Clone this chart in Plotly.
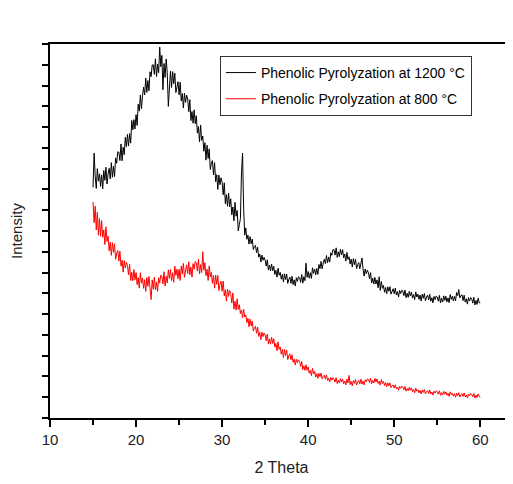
import numpy as np
import plotly.graph_objects as go

# 2-theta scan grid (degrees), 0.125 deg step
two_theta = np.round(np.arange(15.0, 60.0001, 0.125), 3)

# Intensity (a.u.), one row per degree (15 .. 59), then 60
intensity_1200 = [
    1110, 1275, 1165, 1105, 1200, 1140, 1175, 1115,
    1170, 1103, 1191, 1144, 1207, 1126, 1174, 1202,
    1150, 1229, 1159, 1213, 1162, 1252, 1226, 1281,
    1280, 1239, 1319, 1238, 1303, 1267, 1351, 1306,
    1365, 1309, 1369, 1323, 1432, 1387, 1436, 1391,
    1460, 1408, 1510, 1477, 1555, 1488, 1550, 1592,
    1555, 1636, 1567, 1624, 1575, 1666, 1643, 1699,
    1700, 1654, 1729, 1643, 1703, 1662, 1785, 1691,
    1745, 1580, 1706, 1639, 1728, 1661, 1500, 1622,
    1670, 1591, 1667, 1609, 1660, 1566, 1603, 1619,
    1555, 1616, 1526, 1562, 1492, 1563, 1519, 1554,
    1535, 1474, 1532, 1431, 1475, 1419, 1483, 1416,
    1455, 1371, 1403, 1329, 1410, 1336, 1357, 1284,
    1325, 1241, 1313, 1249, 1295, 1196, 1227, 1239,
    1170, 1229, 1137, 1171, 1100, 1169, 1123, 1156,
    1135, 1074, 1132, 1031, 1075, 1019, 1083, 1016,
    1055, 978, 1016, 949, 1038, 971, 999, 900,
    930, 960, 1180, 1275, 1010, 880, 915, 860,
    880, 837, 873, 839, 861, 811, 826, 831,
    796, 822, 774, 789, 751, 784, 759, 773,
    760, 731, 761, 712, 736, 708, 741, 709,
    730, 691, 711, 678, 721, 687, 701, 668,
    692, 654, 694, 666, 693, 648, 667, 678,
    648, 682, 642, 665, 635, 675, 658, 680,
    675, 653, 691, 649, 680, 661, 745, 677,
    705, 673, 699, 672, 723, 696, 716, 689,
    720, 691, 739, 719, 754, 718, 746, 764,
    743, 782, 747, 775, 750, 795, 783, 810,
    810, 784, 819, 773, 800, 777, 813, 786,
    810, 771, 789, 755, 797, 763, 776, 741,
    765, 727, 767, 738, 764, 719, 738, 748,
    718, 746, 770, 718, 683, 717, 694, 711,
    700, 670, 700, 650, 673, 645, 677, 645,
    665, 627, 680, 614, 657, 624, 638, 605,
    628, 598, 631, 610, 632, 596, 613, 622,
    598, 625, 592, 608, 583, 614, 599, 615,
    610, 589, 616, 579, 600, 581, 610, 587,
    606, 577, 594, 570, 607, 582, 596, 571,
    592, 563, 596, 576, 599, 564, 582, 591,
    568, 595, 562, 579, 554, 585, 570, 587,
    582, 562, 590, 554, 576, 558, 588, 566,
    586, 559, 578, 555, 594, 571, 586, 563,
    586, 564, 604, 589, 618, 578, 590, 593,
    565, 591, 558, 574, 548, 579, 563, 580,
    574, 553, 581, 544, 566, 547, 577, 554,
    555,
]

intensity_800 = [
    1040, 940, 1020, 905, 990, 880, 960, 875,
    950, 870, 905, 835, 920, 850, 875, 805,
    846, 783, 844, 797, 838, 764, 793, 806,
    755, 803, 731, 759, 702, 758, 722, 750,
    734, 689, 740, 662, 701, 660, 714, 665,
    700, 642, 676, 625, 699, 649, 674, 624,
    666, 609, 676, 634, 681, 612, 570, 665,
    620, 678, 616, 655, 609, 675, 650, 688,
    682, 645, 704, 635, 682, 650, 713, 672,
    715, 661, 699, 653, 731, 686, 716, 670,
    716, 662, 732, 694, 744, 677, 715, 737,
    695, 752, 689, 726, 678, 743, 716, 753,
    746, 707, 764, 693, 738, 700, 800, 711,
    747, 685, 716, 662, 732, 679, 701, 648,
    686, 625, 688, 643, 686, 613, 644, 659,
    610, 659, 588, 617, 562, 620, 585, 614,
    599, 553, 602, 524, 562, 520, 574, 523,
    545, 503, 519, 482, 523, 486, 496, 459,
    480, 439, 476, 443, 467, 419, 434, 441,
    408, 438, 393, 412, 377, 413, 392, 409,
    400, 372, 404, 356, 381, 355, 389, 359,
    381, 341, 359, 324, 366, 330, 342, 307,
    330, 291, 330, 301, 327, 281, 300, 309,
    280, 304, 268, 283, 255, 283, 266, 280,
    272, 248, 272, 233, 251, 229, 256, 230,
    246, 215, 230, 204, 239, 212, 224, 197,
    214, 191, 215, 199, 216, 188, 200, 206,
    187, 207, 181, 192, 173, 195, 182, 194,
    189, 173, 194, 166, 182, 168, 190, 173,
    187, 165, 178, 159, 187, 169, 205, 161,
    176, 155, 180, 167, 185, 159, 173, 181,
    164, 187, 163, 177, 159, 184, 174, 188,
    186, 171, 192, 165, 181, 168, 191, 173,
    188, 166, 177, 158, 185, 166, 176, 156,
    170, 151, 169, 155, 169, 146, 155, 159,
    144, 160, 140, 149, 134, 152, 143, 153,
    149, 136, 152, 129, 142, 131, 148, 134,
    145, 127, 137, 121, 144, 129, 136, 121,
    133, 116, 135, 123, 137, 116, 126, 132,
    118, 135, 115, 125, 110, 129, 120, 131,
    127, 115, 131, 109, 122, 111, 128, 115,
    126, 109, 119, 104, 126, 112, 119, 105,
    117, 100, 119, 107, 122, 101, 111, 117,
    104, 121, 101, 111, 97, 115, 107, 117,
    114, 102, 118, 96, 110, 99, 116, 103,
    100,
]

series_names = ["Phenolic Pyrolyzation at 1200 °C", "Phenolic Pyrolyzation at 800 °C"]
x_tick_vals = [10, 20, 30, 40, 50, 60]

FONT = "Liberation Sans, Arial, sans-serif"

fig = go.Figure()
fig.add_trace(go.Scatter(x=two_theta, y=intensity_1200, mode="lines", legendgroup="a",
                         name=series_names[0], line=dict(color="black", width=1)))
fig.add_trace(go.Scatter(x=two_theta, y=intensity_800, mode="lines", legendgroup="b",
                         name=series_names[1], line=dict(color="#ff0000", width=1)))

fig.update_layout(
    width=505, height=468,
    margin=dict(l=42, r=0, t=36, b=58, autoexpand=False),
    paper_bgcolor="white", plot_bgcolor="white",
    font=dict(family=FONT, color="#222", size=15),
    showlegend=True,
    legend=dict(x=0.367, y=0.968, xanchor="left", yanchor="top",
                bordercolor="#333", borderwidth=1, bgcolor="white",
                font=dict(family=FONT, size=14, color="black"),
                tracegroupgap=5),
)
fig.update_xaxes(
    range=[10, 63.8], tickvals=x_tick_vals, ticks="outside", ticklen=7,
    tickwidth=1.5, tickcolor="black",
    minor=dict(dtick=5, tick0=10, ticks="outside", ticklen=5, tickwidth=1.5, tickcolor="black"),
    showline=True, linecolor="black", linewidth=1.5, mirror=True,
    showgrid=False, zeroline=False,
    title=dict(text="2 Theta", font=dict(size=16, family=FONT), standoff=21),
    tickfont=dict(size=15, family=FONT),
)
fig.update_yaxes(
    range=[0, 1800], dtick=100, tick0=0, ticks="outside", ticklen=6,
    tickwidth=1.5, tickcolor="black", showticklabels=False,
    showline=True, linecolor="black", linewidth=1.5, mirror=False,
    showgrid=False, zeroline=False,
    title=dict(text="Intensity", font=dict(size=15, family=FONT), standoff=16),
)

fig.write_html("out.html")
